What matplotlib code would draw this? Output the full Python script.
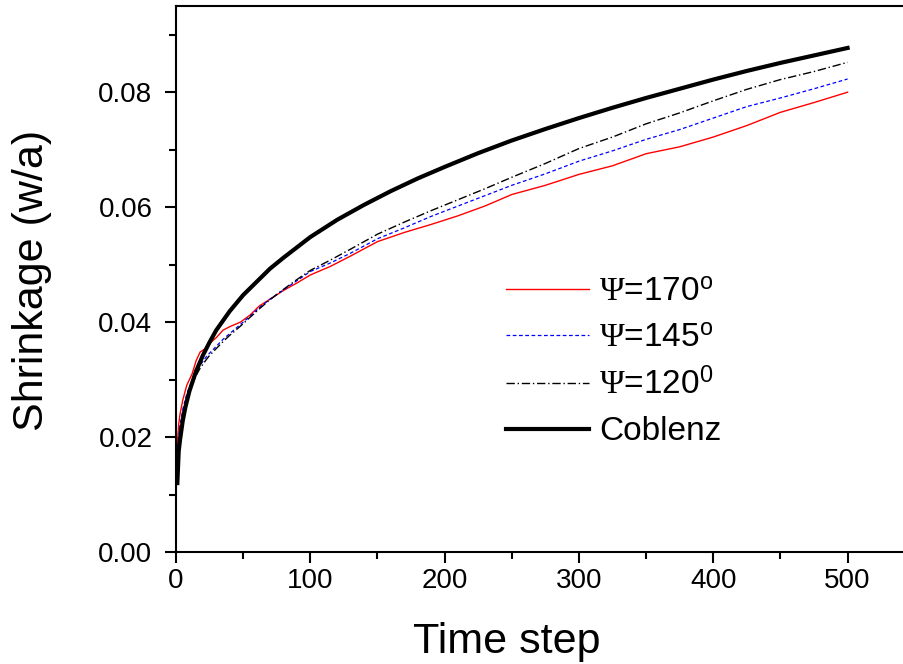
import numpy as np
import matplotlib
matplotlib.use('Agg')
import matplotlib.pyplot as plt

plt.rcParams['font.family'] = ['Liberation Sans', 'DejaVu Sans']
plt.rcParams['mathtext.fontset'] = 'custom'
plt.rcParams['mathtext.rm'] = 'Liberation Serif'
plt.rcParams['mathtext.it'] = 'Liberation Serif:italic'
plt.rcParams['mathtext.sf'] = 'Liberation Sans'

t_sim = [0, 1, 2, 3, 5, 8, 12, 15, 18, 22, 25, 30, 35, 40, 48, 55, 62, 70, 80, 90,
         100, 115, 130, 150, 170, 190, 210, 230, 250, 275, 300, 325, 350, 375,
         400, 425, 450, 475, 500]

psi170 = [0.0085, 0.019, 0.0222, 0.0240, 0.0264, 0.0290, 0.0310, 0.0333, 0.0348, 0.0354, 0.0363,
          0.0373, 0.0386, 0.0392, 0.0400, 0.0412, 0.0428, 0.0440, 0.0455, 0.0468,
          0.0482, 0.0497, 0.0515, 0.0540, 0.0556, 0.0570, 0.0585, 0.0602, 0.0622, 0.0638,
          0.0657, 0.0672, 0.0693, 0.0705, 0.0722, 0.0742, 0.0765, 0.0782, 0.0800]

psi145 = [0.0095, 0.0170, 0.0200, 0.0220, 0.0248, 0.0275, 0.0298, 0.0312, 0.0325, 0.0338, 0.0346,
          0.0358, 0.0370, 0.0380, 0.0396, 0.0410, 0.0425, 0.0440, 0.0456, 0.0472,
          0.0488, 0.0503, 0.0520, 0.0545, 0.0564, 0.0584, 0.0602, 0.0620, 0.0638, 0.0658,
          0.0680, 0.0698, 0.0718, 0.0735, 0.0755, 0.0775, 0.0790, 0.0806, 0.0823]

psi120 = [0.0100, 0.0165, 0.0195, 0.0215, 0.0242, 0.0270, 0.0293, 0.0307, 0.0320, 0.0333, 0.0342,
          0.0354, 0.0366, 0.0377, 0.0393, 0.0408, 0.0423, 0.0439, 0.0457, 0.0474,
          0.0490, 0.0508, 0.0527, 0.0553, 0.0574, 0.0594, 0.0613, 0.0632, 0.0652, 0.0676,
          0.0702, 0.0722, 0.0745, 0.0764, 0.0785, 0.0805, 0.0822, 0.0836, 0.0852]

t_cob = [1, 2, 3, 5, 7, 10, 15, 20, 25, 30, 40, 50, 60, 70, 80, 90, 100, 120, 140, 160,
         180, 200, 225, 250, 275, 300, 325, 350, 375, 400, 425, 450, 475, 500]
coblenz = [0.0120, 0.0175, 0.0195, 0.0228, 0.0252, 0.0280, 0.0315, 0.0342, 0.0365, 0.0386,
           0.0419, 0.0447, 0.0470, 0.0493, 0.0512, 0.0530, 0.0548, 0.0578, 0.0604, 0.0628,
           0.0650, 0.0670, 0.0694, 0.0716, 0.0736, 0.0755, 0.0773, 0.0790, 0.0806, 0.0822,
           0.0837, 0.0851, 0.0864, 0.0877]

fig = plt.figure(figsize=(9.04, 6.64), dpi=100)
ax = fig.add_axes([176 / 904, 1 - 552 / 664, 1 - 176 / 904, 546 / 664])

ax.plot(t_sim, psi170, color='red', lw=1.0, label=r'$\Psi$=170$^{\mathsf{o}}$')
ax.plot(t_sim, psi145, color='blue', lw=0.9, ls=(0, (3, 2)), label=r'$\Psi$=145$^{\mathsf{o}}$')
ax.plot(t_sim, psi120, color='black', lw=1.0, ls=(0, (6, 2, 1, 2)), label=r'$\Psi$=120$^{\mathsf{0}}$')
ax.plot(t_cob, coblenz, color='black', lw=3.0, label='Coblenz')

ax.set_xlim(0, 542)
ax.set_ylim(0, 0.095)
ax.set_xticks([0, 100, 200, 300, 400, 500])
ax.set_xticks(np.arange(50, 542, 100), minor=True)
ax.set_yticks([0.00, 0.02, 0.04, 0.06, 0.08])
ax.set_yticks([0.01, 0.03, 0.05, 0.07, 0.09], minor=True)
ax.set_yticklabels(['0.00', '0.02', '0.04', '0.06', '0.08'])

ax.spines['right'].set_visible(False)
for s in ['left', 'bottom', 'top']:
    ax.spines[s].set_linewidth(1.5)
ax.tick_params(which='major', direction='out', length=8, width=1.5, labelsize=20, top=False)
ax.tick_params(axis='y', which='major', pad=9)
ax.tick_params(which='minor', direction='out', length=5, width=1.5, top=False)

ax.set_xlabel('Time step', fontsize=31)
ax.set_ylabel('Shrinkage (w/a)', fontsize=31)
ax.xaxis.set_label_coords((507 - 176) / 728, -(642 - 552) / 546)
ax.yaxis.set_label_coords(-(176 - 32) / 728, (552 - 280) / 546)
ax.xaxis.label.set_va('center')
ax.yaxis.label.set_va('center')

leg = ax.legend(loc='upper left', bbox_to_anchor=(0.412, 0.56), frameon=False,
                fontsize=24, handlelength=2.5, handletextpad=0.3, labelspacing=0.45)

fig.savefig('out.png', dpi=100)
